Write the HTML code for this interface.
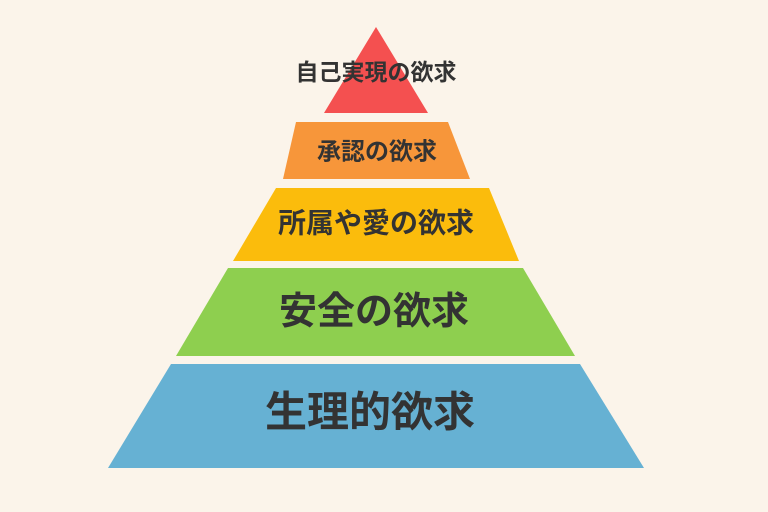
<!DOCTYPE html>
<html><head><meta charset="utf-8"><style>
html,body{margin:0;padding:0;background:#fbf4ea;}
svg{display:block}
text{font-family:"Liberation Sans","Noto Sans CJK JP",sans-serif;font-weight:bold;fill:#333;text-anchor:middle;dominant-baseline:central}
</style></head><body>
<svg width="768" height="512" viewBox="0 0 768 512">
<rect width="768" height="512" fill="#fbf4ea"/>
<polygon points="376,27 428,113 324,113" fill="#f45050"/>
<polygon points="296,122 448,122 470,179 283,179" fill="#f7963a"/>
<polygon points="276,188 489,188 519,261 233,261" fill="#fbbc0c"/>
<polygon points="228,268 523,268 575,356 176,356" fill="#8ecf4f"/>
<polygon points="171,364 580,364 644,468 108,468" fill="#66b1d3"/>
<text x="376" y="72" font-size="23">自己実現の欲求</text>
<text x="377" y="152" font-size="24">承認の欲求</text>
<text x="376" y="223" font-size="28">所属や愛の欲求</text>
<text x="374" y="312" font-size="38">安全の欲求</text>
<text x="370" y="412" font-size="42">生理的欲求</text>
</svg>
</body></html>
